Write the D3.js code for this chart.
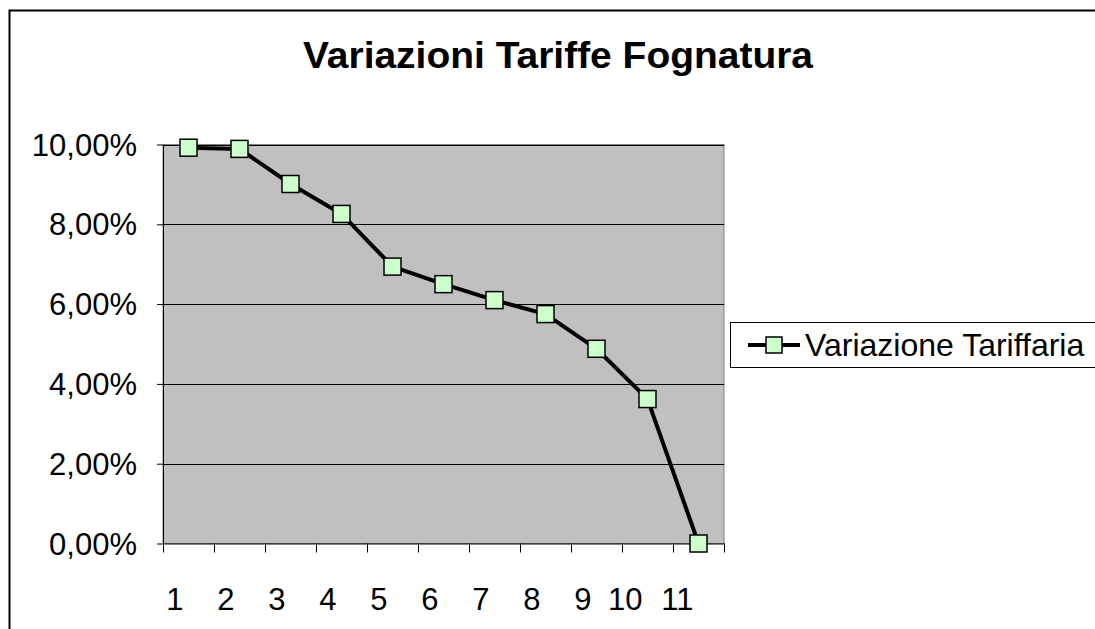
<!DOCTYPE html>
<html>
<head>
<meta charset="utf-8">
<script src="https://cdn.jsdelivr.net/npm/d3@7"></script>
<style>
  body { margin: 0; background: #fff; }
  text { font-family: "Liberation Sans", Arial, sans-serif; }
</style>
</head>
<body>
<svg id="chart" width="1095" height="629"></svg>
<script>
// data
const categories = ["1", "2", "3", "4", "5", "6", "7", "8", "9", "10", "11"];
const values = [0.0992, 0.0989, 0.0901, 0.0826, 0.0694, 0.0650, 0.0610, 0.0575, 0.0488, 0.0362, 0.0000];
const yTicks = [0, 0.02, 0.04, 0.06, 0.08, 0.10];
const seriesName = "Variazione Tariffaria";
const title = "Variazioni Tariffe Fognatura";

var svg = d3.select("#chart");

// outer chart frame
svg.append("rect")
  .attr("x", 9.5).attr("y", 10.5)
  .attr("width", 1100).attr("height", 640)
  .attr("fill", "#fff")
  .attr("stroke", "#000").attr("stroke-width", 2);

var plot = { left: 163, top: 144.5, right: 724, bottom: 543.5 };

var x = d3.scaleBand()
  .domain(categories)
  .range([plot.left, plot.right]);

var y = d3.scaleLinear()
  .domain([0, 0.10])
  .range([plot.bottom, plot.top]);

// plot area
svg.append("rect")
  .attr("x", plot.left).attr("y", plot.top)
  .attr("width", plot.right - plot.left).attr("height", plot.bottom - plot.top)
  .attr("fill", "#c0c0c0")
  .attr("stroke", "#808080").attr("stroke-width", 1);

// gridlines
svg.append("g")
  .selectAll("line")
  .data(yTicks.filter(d => d > 0))
  .enter().append("line")
  .attr("x1", plot.left).attr("x2", plot.right)
  .attr("y1", d => Math.round(y(d)) + 0.5).attr("y2", d => Math.round(y(d)) + 0.5)
  .attr("stroke", "#000").attr("stroke-width", 1);

// y axis
var fmt = d => d3.format(".2f")(d * 100).replace(".", ",") + "%";
var yAxis = svg.append("g")
  .attr("transform", "translate(" + plot.left + ",0)")
  .call(d3.axisLeft(y).tickValues(yTicks).tickFormat(fmt).tickSize(6).tickSizeOuter(0));
yAxis.select(".domain").attr("stroke", "#000");
yAxis.selectAll("text")
  .attr("font-size", 31).attr("fill", "#000").attr("x", -26)
  .attr("dy", "0.34em")
  .attr("font-family", "Liberation Sans, Arial, sans-serif");

// x axis
var xAxis = svg.append("g")
  .attr("transform", "translate(0," + plot.bottom + ")")
  .call(d3.axisBottom(x).tickSize(0).tickSizeOuter(0));
xAxis.select(".domain").attr("stroke", "#000");
xAxis.selectAll(".tick text")
  .attr("font-size", 31).attr("fill", "#000")
  .attr("font-family", "Liberation Sans, Arial, sans-serif")
  .attr("text-anchor", "end")
  .attr("dy", 0)
  .attr("x", -5)
  .attr("y", 66);
// band boundary ticks
svg.append("g")
  .selectAll("line")
  .data(categories.concat(["end"]))
  .enter().append("line")
  .attr("x1", (d, i) => Math.round(plot.left + i * x.step()) + 0.5)
  .attr("x2", (d, i) => Math.round(plot.left + i * x.step()) + 0.5)
  .attr("y1", plot.bottom).attr("y2", plot.bottom + 9)
  .attr("stroke", "#000");

// series line
var line = d3.line()
  .x((d, i) => x(categories[i]) + x.bandwidth() / 2)
  .y(d => y(d));

svg.append("path")
  .datum(values)
  .attr("d", line)
  .attr("fill", "none")
  .attr("stroke", "#000")
  .attr("stroke-width", 4)
  .attr("stroke-linejoin", "round");

svg.append("g")
  .selectAll("rect")
  .data(values)
  .enter().append("rect")
  .attr("x", (d, i) => x(categories[i]) + x.bandwidth() / 2 - 8.5)
  .attr("y", d => y(d) - 8.5)
  .attr("width", 17).attr("height", 17)
  .attr("fill", "#ccffcc")
  .attr("stroke", "#000").attr("stroke-width", 1.5);

// title
svg.append("text")
  .attr("x", 303).attr("y", 68)
  .attr("font-size", 37).attr("font-weight", "bold")
  .attr("textLength", 510).attr("lengthAdjust", "spacingAndGlyphs")
  .text(title);

// legend
var lg = svg.append("g");
lg.append("rect")
  .attr("x", 730.5).attr("y", 322.5)
  .attr("width", 380).attr("height", 45)
  .attr("fill", "#fff").attr("stroke", "#000");
lg.append("line")
  .attr("x1", 748).attr("x2", 800).attr("y1", 345).attr("y2", 345)
  .attr("stroke", "#000").attr("stroke-width", 4);
lg.append("rect")
  .attr("x", 766).attr("y", 337).attr("width", 16).attr("height", 16)
  .attr("fill", "#ccffcc").attr("stroke", "#000").attr("stroke-width", 1.5);
lg.append("text")
  .attr("x", 805).attr("y", 356)
  .attr("font-size", 32)
  .text(seriesName);
</script>
</body>
</html>
